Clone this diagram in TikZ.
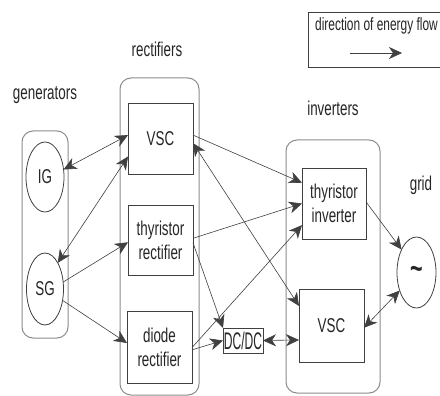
\documentclass[tikz,border=0pt]{standalone}
\usepackage{fontspec}
\setmainfont[FakeStretch=0.67]{Liberation Sans}
\usetikzlibrary{arrows.meta,shapes.geometric}
\begin{document}
\begin{tikzpicture}[x=1pt,y=-1pt,
  cont/.style={draw=black!45, line width=1pt, rounded corners=11pt},
  box/.style={draw=black!75, line width=0.9pt, rectangle, minimum width=65pt, minimum height=71pt, inner sep=0pt, outer sep=0pt, align=center, font=\fontsize{20}{24}\selectfont, text=black!85},
  gen/.style={draw=black!75, line width=0.8pt, ellipse, inner sep=0pt, outer sep=0pt, minimum width=38pt, minimum height=71pt, font=\fontsize{20}{24}\selectfont, text=black!85},
  lbl/.style={anchor=base, inner sep=0pt, font=\fontsize{20}{24}\selectfont, text=black!85},
  flow/.style={draw=black!75, line width=0.6pt, -{Stealth[length=13pt,width=12pt,inset=4pt]}},
  both/.style={draw=black!75, line width=0.6pt, {Stealth[length=13pt,width=12pt,inset=4pt]}-{Stealth[length=13pt,width=12pt,inset=4pt]}}
]
\useasboundingbox[fill=white] (0,0) rectangle (440,396);
\clip (0,0) rectangle (440,396);

% legend
\draw[draw=black!75, line width=0.8pt] (308,12) rectangle (446,67);
\node[lbl, font=\fontsize{17.8}{21}\selectfont] (legtxt) at (376.5,31) {direction of energy flow};
\coordinate (la) at (350,53);
\coordinate (lb) at (402,53);
\draw[flow] (la) -- (lb);

% containers
\draw[cont] (22,131) rectangle (68,338);
\draw[cont] (120,78) rectangle (199,395);
\draw[cont] (286,140) rectangle (380,393);

% labels
\node[lbl] (lgen) at (45,100) {generators};
\node[lbl] (lrect) at (157,57) {rectifiers};
\node[lbl] (linv) at (333,116) {inverters};
\node[lbl] (lgrid) at (421,191) {grid};

% generators
\node[gen, minimum height=70pt] (IG) at (45,177) {IG};
\node[gen, minimum width=37pt, minimum height=72pt] (SG) at (45,289) {SG};

% rectifiers
\node[box] (vscR) at (160.5,138.5) {VSC};
\node[box, minimum height=70pt] (thyR) at (160.5,240) {thyristor\\rectifier};
\node[box, minimum height=72pt] (dioR) at (159.5,347) {diode\\rectifier};

% inverters
\node[box, minimum width=64pt] (thyI) at (334,203.5) {thyristor\\inverter};
\node[box, minimum height=73pt] (vscI) at (331.5,325.5) {VSC};

% grid
\node[gen, minimum width=39pt, minimum height=71pt, font=\fontsize{32}{32}\bfseries] (grid) at (416.5,272.5) {\raisebox{-4pt}{\textasciitilde}};

% dc/dc
\node[box, minimum width=40pt, minimum height=25pt, line width=0.8pt] (dcdc) at (243,340.5) {\scalebox{0.75}[1]{\fontsize{24}{24}\selectfont DC/DC}};

% connectors
\draw[both] (IG.22) -- (vscR.174);
\draw[both] (SG.64) -- (vscR.209);
\draw[flow] (SG.21) -- (thyR.184);
\draw[flow] (SG.-33) -- (dioR.173);
\draw[flow] (vscR.6) -- (thyI.147);
\draw[flow] (thyR.3) -- (thyI.180);
\draw[flow] (thyR.-5) -- (dcdc.north west);
\draw[flow] (dioR.-1) -- (thyI.214);
\draw[flow] (dioR.-5) -- (dcdc.west);
\draw[both] (dcdc.east) -- (vscI.204);
\draw[both] (vscR.-8) -- (vscI.149);
\draw[flow] (thyI.3) -- (grid.123);
\draw[both] (vscI.-4) -- (grid.227);
\end{tikzpicture}
\end{document}
